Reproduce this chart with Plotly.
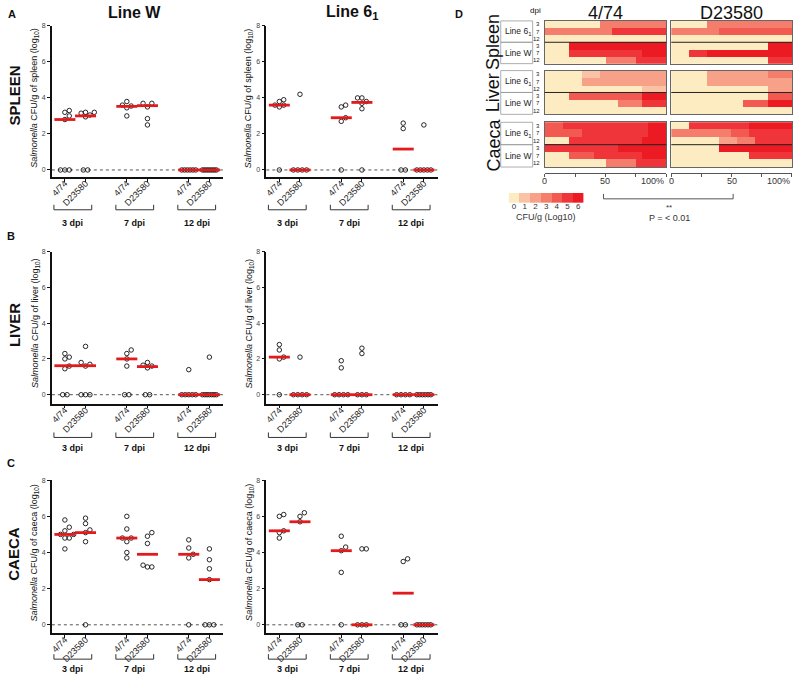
import plotly.graph_objects as go

W, H = 793, 684
FONT = "Liberation Sans, Arial, Helvetica, sans-serif"
RED = "#E31A1C"


def fx(p):
    return p / W


def fy(p):
    return 1 - p / H


# ------------------------------------------------------------------ data
strains = ["4/74", "D23580"]
dpi_labels = ["3 dpi", "7 dpi", "12 dpi"]
y_tick_values = [0, 2, 4, 6, 8]

# groups order: 3dpi 4/74, 3dpi D23580, 7dpi 4/74, 7dpi D23580, 12dpi 4/74, 12dpi D23580
spleen_lineW = [
    [0, 0, 0, 2.8, 3.0, 3.2, 3.3],
    [0, 0, 2.95, 3.05, 3.15, 3.2, 3.2],
    [3.0, 3.45, 3.55, 3.6, 3.8],
    [2.5, 2.85, 3.5, 3.7, 3.7],
    [0, 0, 0, 0, 0, 0],
    [0, 0, 0, 0, 0, 0, 0, 0],
]
spleen_lineW_median = [2.8, 3.0, 3.53, 3.57, 0, 0]

spleen_line61 = [
    [0, 3.5, 3.6, 3.6, 3.8, 3.9],
    [0, 0, 0, 0, 4.2],
    [0, 2.7, 2.9, 3.5, 3.6],
    [0, 3.4, 3.7, 3.8, 4.0, 4.0],
    [0, 0, 2.3, 2.6],
    [0, 0, 0, 0, 0, 2.5],
]
spleen_line61_median = [3.6, 0, 2.9, 3.75, 1.16, 0]

liver_lineW = [
    [0, 0, 1.45, 1.6, 2.0, 2.1, 2.3],
    [0, 0, 0, 1.6, 1.7, 1.8, 2.7],
    [0, 0, 1.6, 2.0, 2.3, 2.5],
    [0, 0, 1.5, 1.6, 1.65, 1.8],
    [0, 0, 0, 0, 0, 1.4],
    [0, 0, 0, 0, 0, 0, 0, 2.1],
]
liver_lineW_median = [1.62, 1.62, 2.0, 1.57, 0, 0]

liver_line61 = [
    [0, 2.0, 2.1, 2.5, 2.8],
    [0, 0, 0, 0, 2.1],
    [0, 0, 0, 0, 1.5, 1.9],
    [0, 0, 0, 2.3, 2.6],
    [0, 0, 0, 0],
    [0, 0, 0, 0, 0, 0],
]
liver_line61_median = [2.1, 0, 0, 0, 0, 0]

caeca_lineW = [
    [4.2, 4.8, 4.8, 5.0, 5.0, 5.2, 5.4, 5.8],
    [0, 4.6, 5.1, 5.25, 5.6, 5.9],
    [3.7, 4.0, 4.6, 4.8, 4.8, 5.3, 6.0],
    [3.2, 3.2, 3.3, 4.5, 4.9, 5.1],
    [0, 3.7, 3.9, 4.25, 4.7],
    [0, 0, 0, 2.5, 3.1, 3.6, 4.2],
]
caeca_lineW_median = [5.0, 5.1, 4.8, 3.9, 3.9, 2.5]

caeca_line61 = [
    [4.8, 5.1, 5.2, 6.0, 6.1],
    [0, 0, 5.7, 6.0, 6.2],
    [0, 2.9, 4.1, 4.3, 4.9],
    [0, 0, 0, 4.2, 4.2],
    [0, 0, 3.5, 3.65],
    [0, 0, 0, 0, 0, 0],
]
caeca_line61_median = [5.2, 5.7, 4.1, 0, 1.75, 0]

# heat map (panel D): per row % of birds in each CFU class (log10 0..6)
# rows: Line 6_1 3,7,12 dpi ; Line W 3,7,12 dpi
cfu_levels = [0, 1, 2, 3, 4, 5, 6]
heat_474_spleen = [
    [45, 0, 0, 55, 0, 0, 0],
    [0, 0, 0, 55, 0, 45, 0],
    [100, 0, 0, 0, 0, 0, 0],
    [20, 0, 0, 0, 0, 0, 80],
    [20, 0, 0, 0, 0, 60, 20],
    [50, 0, 0, 25, 0, 25, 0],
]
heat_474_liver = [
    [30, 15, 55, 0, 0, 0, 0],
    [30, 0, 70, 0, 0, 0, 0],
    [80, 20, 0, 0, 0, 0, 0],
    [20, 0, 0, 0, 60, 0, 20],
    [60, 0, 0, 20, 0, 20, 0],
    [100, 0, 0, 0, 0, 0, 0],
]
heat_474_caeca = [
    [0, 0, 0, 0, 15, 70, 15],
    [0, 0, 0, 0, 30, 55, 15],
    [20, 0, 0, 0, 0, 60, 20],
    [0, 0, 0, 0, 0, 60, 40],
    [20, 0, 0, 0, 20, 40, 20],
    [50, 0, 0, 25, 0, 25, 0],
]
heat_D23580_spleen = [
    [30, 0, 0, 70, 0, 0, 0],
    [0, 0, 0, 40, 60, 0, 0],
    [100, 0, 0, 0, 0, 0, 0],
    [80, 0, 0, 0, 0, 0, 20],
    [15, 0, 0, 0, 0, 15, 70],
    [80, 0, 0, 0, 0, 20, 0],
]
heat_D23580_liver = [
    [30, 0, 50, 20, 0, 0, 0],
    [30, 0, 70, 0, 0, 0, 0],
    [80, 0, 20, 0, 0, 0, 0],
    [80, 0, 0, 0, 20, 0, 0],
    [60, 0, 0, 0, 20, 0, 20],
    [100, 0, 0, 0, 0, 0, 0],
]
heat_D23580_caeca = [
    [15, 0, 0, 0, 0, 50, 35],
    [0, 0, 0, 50, 15, 35, 0],
    [40, 0, 15, 15, 0, 30, 0],
    [40, 0, 0, 0, 0, 0, 60],
    [65, 0, 0, 0, 0, 35, 0],
    [100, 0, 0, 0, 0, 0, 0],
]
heat_lines = ["Line 6<sub>1</sub>", "Line W"]
heat_dpis = ["3", "7", "12"]
organs = ["Spleen", "Liver", "Caeca"]
palette = ["#FDEBC1", "#FAC3A5", "#F8A189", "#F57D6B", "#F25951", "#EF353A", "#EC1A22"]

# ------------------------------------------------------------------ helpers
fig = go.Figure()
axes_layout = {}
annotations = []
shapes = []
_axn = [0]


def add_axes(xdom, ydom, xopts, yopts):
    _axn[0] += 1
    n = _axn[0]
    s = "" if n == 1 else str(n)
    axes_layout["xaxis" + s] = dict(domain=xdom, anchor="y" + s, **xopts)
    axes_layout["yaxis" + s] = dict(domain=ydom, anchor="x" + s, **yopts)
    return "x" + s, "y" + s


def text(x, y, t, size=9, bold=False, angle=0, xanchor="center", yanchor="middle",
         xref="paper", yref="paper", color="#111"):
    if bold:
        t = "<b>" + t + "</b>"
    annotations.append(dict(x=x, y=y, xref=xref, yref=yref, text=t, showarrow=False,
                            textangle=angle, xanchor=xanchor, yanchor=yanchor,
                            font=dict(family=FONT, size=size, color=color)))


def swarm(vals, yu, d=4.4):
    """deterministic horizontal spreading of overlapping points (pixel offsets)"""
    offs = [0.0] * len(vals)
    zeros = [i for i, v in enumerate(vals) if v == 0]
    if zeros:
        n = len(zeros)
        step = d if n <= 3 else min(d, 14.0 / (n - 1))
        for k, i in enumerate(zeros):
            offs[i] = (k - (n - 1) / 2) * step
    placed = []
    others = sorted([i for i, v in enumerate(vals) if v != 0], key=lambda i: vals[i])
    cands = [0.0]
    for m in range(1, 12):
        cands += [m * d, -m * d]
    for i in others:
        y = vals[i] * yu
        for c in cands:
            if all((c - px) ** 2 + (y - py) ** 2 >= (0.92 * d) ** 2 for px, py in placed):
                break
        placed.append((c, y))
        offs[i] = c
    return offs


X_LO, X_HI = -0.63, 7.68
positions = [3 * g + s for g in range(3) for s in range(2)]


def scatter_panel(groups, medians, organ, x0px, x1px, top_px, bottom_px, y_lo, bracket_px, dpi_px):
    xr, yr = add_axes(
        [fx(x0px), fx(x1px)], [fy(bottom_px), fy(top_px)],
        dict(range=[X_LO, X_HI], tickvals=positions, ticktext=strains * 3, tickangle=-45,
             ticks="outside", ticklen=3, tickwidth=1, tickcolor="#111", ticklabelstandoff=-7,
             showline=True, linecolor="#111", linewidth=1.6, showgrid=False, zeroline=False,
             tickfont=dict(family=FONT, size=9, color="#222")),
        dict(range=[y_lo, 8], tickvals=y_tick_values, ticks="outside", ticklen=3, tickwidth=1,
             tickcolor="#111", showline=True, linecolor="#111", linewidth=1.6, showgrid=False,
             zeroline=False, tickfont=dict(family=FONT, size=7, color="#444")))
    xu = (x1px - x0px) / (X_HI - X_LO)
    yu = (bottom_px - top_px) / (8 - y_lo)
    xs, ys = [], []
    for pos, vals in zip(positions, groups):
        offs = swarm(vals, yu)
        xs += [pos + o / xu for o in offs]
        ys += vals
    shapes.append(dict(type="line", xref=xr + " domain", yref=yr, x0=0, x1=1, y0=0, y1=0,
                       line=dict(color="#555", width=1, dash="dot"), layer="below"))
    fig.add_trace(go.Scatter(x=xs, y=ys, xaxis=xr, yaxis=yr, mode="markers", cliponaxis=False,
                             marker=dict(symbol="circle-open", size=4.5, color="#111",
                                         line=dict(width=0.9, color="#111")),
                             hoverinfo="skip", showlegend=False))
    fig.add_trace(go.Scatter(x=positions, y=medians, xaxis=xr, yaxis=yr, mode="markers",
                             cliponaxis=False,
                             marker=dict(symbol="line-ew", size=15, color=RED,
                                         line=dict(width=2.8, color=RED)),
                             hoverinfo="skip", showlegend=False))
    zero_px = top_px + 8 * yu
    text(fx(x0px - 17), fy((top_px + zero_px) / 2),
         "<i>Salmonella</i> CFU/g of " + organ + " (log<sub>10</sub>)", size=9, angle=-90)
    for g, lab in enumerate(dpi_labels):
        a, b = 3 * g - 0.53, 3 * g + 1.3
        shapes.append(dict(type="path", xref=xr, yref="paper",
                           path=f"M {a},{fy(bracket_px - 5)} L {a},{fy(bracket_px)} "
                                f"L {b},{fy(bracket_px)} L {b},{fy(bracket_px - 5)}",
                           line=dict(color="#333", width=1)))
        text((a + b) / 2, fy(dpi_px), lab, size=9, bold=True, xref=xr)


def heat_block(rows, x0px, x1px, top_px, bottom_px):
    frame = dict(showticklabels=False, ticks="", showline=True, mirror=True, linecolor="#666",
                 linewidth=1, showgrid=False, zeroline=False)
    xr, yr = add_axes([fx(x0px), fx(x1px)], [fy(bottom_px), fy(top_px)],
                      dict(range=[0, 100], **frame), dict(range=[5.5, -0.5], **frame))
    for lvl in cfu_levels:
        fig.add_trace(go.Bar(x=[r[lvl] for r in rows], y=list(range(6)), orientation="h",
                             width=1, marker=dict(color=palette[lvl], line=dict(width=0)),
                             xaxis=xr, yaxis=yr, hoverinfo="skip", showlegend=False))
    shapes.append(dict(type="line", xref=xr + " domain", yref=yr, x0=0, x1=1, y0=2.5, y1=2.5,
                       line=dict(color="#222", width=1)))


def pct_axis(x0px, x1px, line_px, label_px):
    xr, yr = add_axes([fx(x0px), fx(x1px)], [fy(line_px), fy(line_px - 1)],
                      dict(range=[0, 100], tickvals=[0, 25, 50, 75, 100], showticklabels=False,
                           ticks="outside", ticklen=3, tickcolor="#555", showline=True,
                           linecolor="#555", linewidth=1, showgrid=False, zeroline=False),
                      dict(visible=False, range=[0, 1]))
    fig.add_trace(go.Scatter(x=[0, 100], y=[0.5, 0.5], xaxis=xr, yaxis=yr, mode="markers",
                             marker=dict(opacity=0), hoverinfo="skip", showlegend=False))
    text(0, fy(label_px), "0", size=9, xref=xr, color="#333")
    text(50, fy(label_px), "50", size=9, xref=xr, color="#333")
    text(100, fy(label_px), "100%", size=9, xref=xr, xanchor="right", color="#333")


# ------------------------------------------------------------------ panels A-C
cols = [(50, 222), (265, 437)]
rows_px = [  # top, bottom, y_lo, bracket, dpi label
    (22, 174, -0.39, 207, 220),
    (249, 402, -0.5, 436, 447),
    (479, 633, -0.47, 659, 669),
]
panel_data = [
    ("spleen", spleen_lineW, spleen_lineW_median, spleen_line61, spleen_line61_median),
    ("liver", liver_lineW, liver_lineW_median, liver_line61, liver_line61_median),
    ("caeca", caeca_lineW, caeca_lineW_median, caeca_line61, caeca_line61_median),
]
for (organ, gW, mW, g6, m6), (top, bot, ylo, brk, dpy) in zip(panel_data, rows_px):
    scatter_panel(gW, mW, organ, cols[0][0], cols[0][1], top, bot, ylo, brk, dpy)
    scatter_panel(g6, m6, organ, cols[1][0], cols[1][1], top, bot, ylo, brk, dpy)

text(fx(133), fy(9), "Line W", size=16, bold=True)
text(fx(351), fy(9), "Line 6<sub>1</sub>", size=16, bold=True)
for lab, ypx in zip(["SPLEEN", "LIVER", "CAECA"], [92, 323, 553]):
    text(fx(12), fy(ypx), lab, size=15, bold=True, angle=-90)
for lab, xpx, ypx in [("A", 10, 10), ("B", 9, 233), ("C", 9, 462), ("D", 458, 10)]:
    text(fx(xpx), fy(ypx), lab, size=11, bold=True)

# ------------------------------------------------------------------ panel D
blocks_px = [(17, 60), (67, 111), (119, 164)]
heat_cols = [(544, 666, [heat_474_spleen, heat_474_liver, heat_474_caeca]),
             (671, 792, [heat_D23580_spleen, heat_D23580_liver, heat_D23580_caeca])]
for x0, x1, datas in heat_cols:
    for (t, b), rows in zip(blocks_px, datas):
        heat_block(rows, x0, x1, t, b)
    pct_axis(x0, x1, 170, 178)

text(fx(605), fy(9), "4/74", size=18)
text(fx(731), fy(9), "D23580", size=18)
text(fx(535), fy(7), "dpi", size=8)
for organ, (t, b) in zip(organs, blocks_px):
    text(fx(493), fy((t + b) / 2), organ, size=18, angle=-90)
    mid = (t + b) / 2
    for k, (y0, y1) in enumerate([(t, mid), (mid, b)]):
        shapes.append(dict(type="rect", xref="paper", yref="paper", x0=fx(500), x1=fx(532),
                           y0=fy(y1), y1=fy(y0), line=dict(color="#999", width=0.8)))
        text(fx(502), fy((y0 + y1) / 2), heat_lines[k], size=8.5, xanchor="left", color="#222")
        rh = (y1 - y0) / 3
        for j, d in enumerate(heat_dpis):
            text(fx(541.5), fy(y0 + rh * (j + 0.5)), d, size=6, xanchor="right", color="#222")

# colour key
cx, cy = add_axes([fx(508), fx(583)], [fy(200), fy(190)],
                  dict(range=[-0.5, 6.5], tickvals=cfu_levels, ticktext=[str(v) for v in cfu_levels],
                       ticks="", showline=False, showgrid=False, zeroline=False,
                       ticklabelstandoff=-3,
                       tickfont=dict(family=FONT, size=8, color="#333")),
                  dict(visible=False))
scale = []
for i, c in enumerate(palette):
    scale += [[i / 7, c], [(i + 1) / 7, c]]
fig.add_trace(go.Heatmap(z=[cfu_levels], x=cfu_levels, y=[0], colorscale=scale, zmin=-0.5,
                         zmax=6.5, showscale=False, xaxis=cx, yaxis=cy, hoverinfo="skip"))
text(fx(545), fy(214), "CFU/g (Log10)", size=9, color="#333")

# significance bracket
shapes.append(dict(type="path", xref="paper", yref="paper",
                   path=f"M {fx(603)},{fy(191)} L {fx(603)},{fy(196)} L {fx(733)},{fy(196)} "
                        f"L {fx(733)},{fy(191)}",
                   line=dict(color="#555", width=1)))
text(fx(669), fy(205), "**", size=8, color="#333")
text(fx(669), fy(215), "P = &lt; 0.01", size=9, color="#333")

fig.update_layout(
    width=W, height=H, margin=dict(l=0, r=0, t=0, b=0),
    paper_bgcolor="white", plot_bgcolor="rgba(0,0,0,0)",
    showlegend=False, barmode="stack", bargap=0,
    font=dict(family=FONT, size=9, color="#111"),
    annotations=annotations, shapes=shapes, **axes_layout)

fig.write_html("out.html", config={"displayModeBar": False},
               post_script="document.body.style.margin='0';document.body.style.overflow='hidden';")
